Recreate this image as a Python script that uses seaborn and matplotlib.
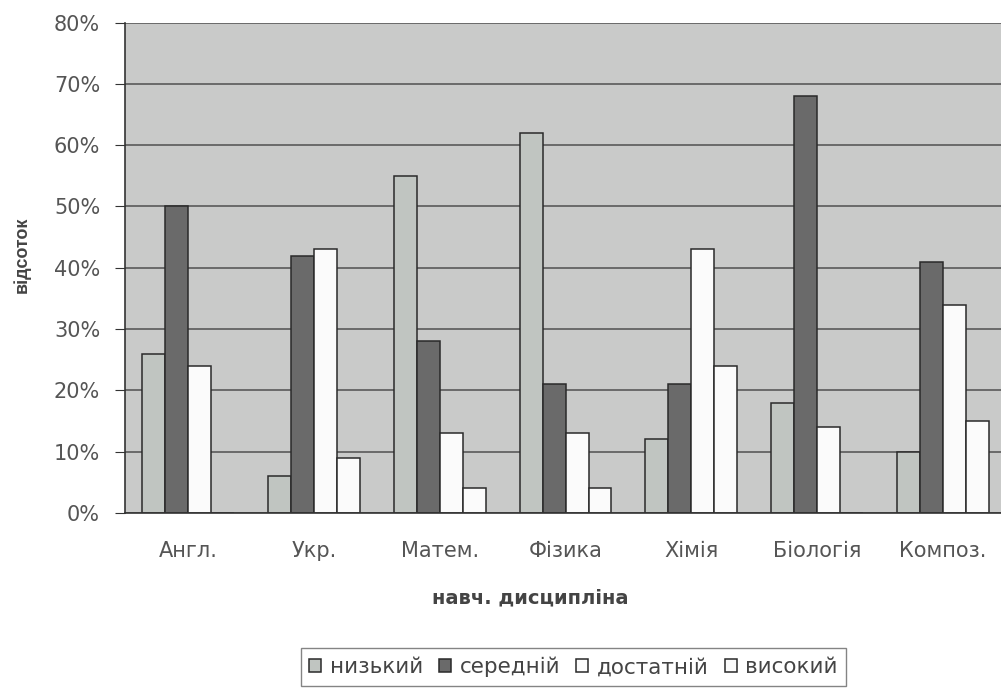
import seaborn as sns
import matplotlib.pyplot as plt
import pandas as pd
import numpy as np

disciplines = ["Англ.", "Укр.", "Матем.", "Фізика", "Хімія", "Біологія", "Композ."]
levels = ["низький", "середній", "достатній", "високий"]
low = [26, 6, 55, 62, 12, 18, 10]
mid = [50, 42, 28, 21, 21, 68, 41]
suff = [24, 43, 13, 13, 43, 14, 34]
high = [0, 9, 4, 4, 24, 0, 15]
colors = ["#c0c5c1", "#6a6a6a", "#fbfbfb", "#fbfbfb"]

rows = []
for lvl, vals in zip(levels, [low, mid, suff, high]):
  for d, v in zip(disciplines, vals):
    rows.append({"дисципліна": d, "рівень": lvl, "відсоток": v})
df = pd.DataFrame(rows)

sns.set_style("white")
plt.rcParams["font.family"] = ["DejaVu Sans"]

fig = plt.figure(figsize=(10.01, 6.92), dpi=100)
ax = fig.add_axes([0.125, 0.2587, 0.88, 0.7087])
ax.set_facecolor("#c9cac9")

sns.barplot(data=df, x="дисципліна", y="відсоток", hue="рівень",
            palette=colors, width=0.73, edgecolor="#2a2a2a", linewidth=1.1,
            ax=ax, legend=True, saturation=1)

ax.set_ylim(0, 80)
ax.set_xlim(-0.5, 6.5)
ax.set_yticks(np.arange(0, 81, 10))
ax.set_yticklabels([f"{t}%" for t in range(0, 81, 10)], fontsize=15, color="#555555")
ax.yaxis.grid(True, color="#505050", linewidth=1.1)
ax.set_axisbelow(True)

ax.set_xticks(range(7))
ax.set_xticklabels(disciplines, fontsize=15, color="#555555")
ax.tick_params(axis="x", length=0, pad=20)
ax.set_xticks(np.arange(-0.5, 7, 1), minor=True)
ax.tick_params(axis="x", which="minor", length=5, color="#333333")
ax.tick_params(axis="y", length=7, color="#333333", left=True, pad=11)

for s in ["top", "right"]:
  ax.spines[s].set_visible(False)
ax.spines["left"].set_color("#333333")
ax.spines["bottom"].set_color("#333333")
ax.spines["left"].set_linewidth(1.2)
ax.spines["bottom"].set_linewidth(1.2)

ax.set_xlabel("навч. дисципліна", fontsize=14, fontweight="bold", color="#444444")
ax.xaxis.label.set_va("center")
ax.xaxis.set_label_coords(0.46, -0.173)
ax.set_ylabel("відсоток", fontsize=13, fontweight="bold", color="#444444",
              family="Liberation Sans")
ax.yaxis.label.set_va("center")
ax.yaxis.set_label_coords(-0.117, 0.526)

handles, labels = ax.get_legend_handles_labels()
ax.legend_.remove()
fig.legend(handles, labels, loc="center", bbox_to_anchor=(0.573, 0.036), ncol=4,
           fontsize=15.5, frameon=True, fancybox=False, edgecolor="#666666",
           handlelength=0.55, handleheight=0.55, handletextpad=0.4, columnspacing=0.75,
           borderpad=0.4, labelcolor="#444444")

fig.savefig("out.png", dpi=100)
